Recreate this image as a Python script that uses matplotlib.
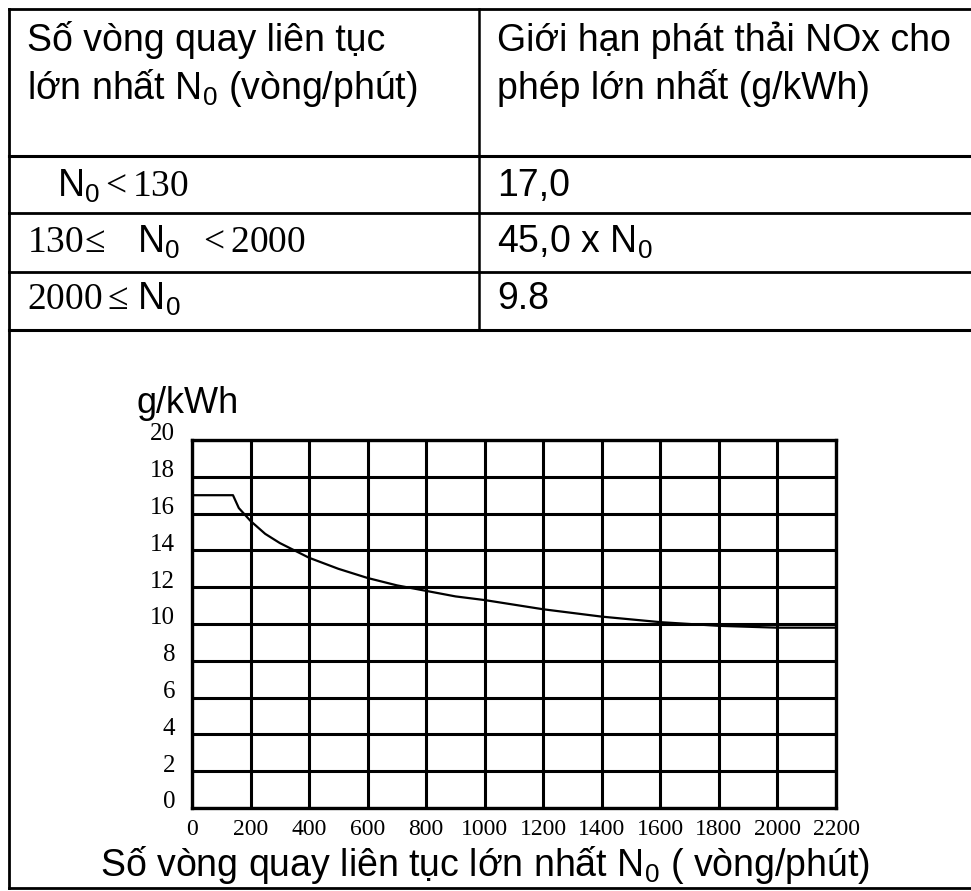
import matplotlib
matplotlib.use('Agg')
import matplotlib.pyplot as plt
from matplotlib.lines import Line2D
import matplotlib.transforms as mtransforms

W, H = 971, 891
plt.rcParams['font.family'] = ['Liberation Sans', 'DejaVu Sans']
plt.rcParams['mathtext.fontset'] = 'custom'
plt.rcParams['mathtext.rm'] = 'Liberation Serif'
plt.rcParams['mathtext.sf'] = 'Liberation Sans'
plt.rcParams['mathtext.it'] = 'Liberation Serif:italic'
plt.rcParams['mathtext.bf'] = 'Liberation Serif:bold'

# ---------------- data ----------------
header_left = ["Số vòng quay liên tục", r"lớn nhất $\mathsf{N_0}$ (vòng/phút)"]
header_right = ["Giới hạn phát thải NOx cho", "phép lớn nhất (g/kWh)"]
rows_left = [r"$\mathsf{N_0}\mathrm{<130}$",
             r"$\mathrm{130\!\leq}\ \ \ \mathsf{N_0}\ \ \mathrm{<2000}$",
             r"$\mathrm{2000\leq\,}\mathsf{N_0}$"]
rows_right = ["17,0", r"45,0 x $\mathsf{N_0}$", "9.8"]

speed = [0, 140, 160, 200, 250, 300, 400, 500, 600, 700, 800, 900, 1000,
         1200, 1400, 1600, 1800, 2000, 2200]
nox = [17.0, 17.0, 16.3, 15.6, 14.9, 14.4, 13.6, 13.0, 12.5, 12.1, 11.8,
       11.5, 11.3, 10.8, 10.4, 10.1, 9.9, 9.8, 9.8]
x_ticks = list(range(0, 2201, 200))
y_ticks = list(range(0, 21, 2))
y_label = "g/kWh"
x_label = r"Số vòng quay liên tục lớn nhất $\mathsf{N_0}$ ( vòng/phút)"

# ---------------- figure ----------------
fig = plt.figure(figsize=(W / 100, H / 100), dpi=100)


def fx(px):
    return px / W


def fy(py):
    return 1 - py / H


def hline(y, x0, x1, lw=2.0):
    fig.add_artist(Line2D([fx(x0), fx(x1)], [fy(y), fy(y)], color='black',
                          lw=lw, transform=fig.transFigure))


def vline(x, y0, y1, lw=2.0):
    fig.add_artist(Line2D([fx(x), fx(x)], [fy(y0), fy(y1)], color='black',
                          lw=lw, transform=fig.transFigure))


# table frame
hline(9, 9, 971, 2.0)
hline(156, 9, 971, 2.2)
hline(213, 9, 971, 2.0)
hline(272, 9, 971, 2.0)
hline(330, 9, 971, 2.2)
hline(888, 9, 971, 2.0)
vline(9, 9, 888, 2.0)
vline(479, 9, 330, 1.8)

hdr_fs = 27
fig.text(fx(27), fy(40), header_left[0], fontsize=hdr_fs, va='center', ha='left')
fig.text(fx(27), fy(88), header_left[1], fontsize=hdr_fs, va='center', ha='left')
fig.text(fx(497), fy(40), header_right[0], fontsize=hdr_fs, va='center', ha='left')
fig.text(fx(497), fy(88), header_right[1], fontsize=hdr_fs, va='center', ha='left')

row_y = [186, 242, 299]
row_x = [57, 27, 27]
for t, yy, xx in zip(rows_left, row_y, row_x):
    fig.text(fx(xx), fy(yy), t, fontsize=hdr_fs, va='center', ha='left')
for t, yy in zip(rows_right, row_y):
    fig.text(fx(497), fy(yy), t, fontsize=hdr_fs, va='center', ha='left')

# chart
ax = fig.add_axes([fx(192), fy(808), fx(836) - fx(192), fy(440) - fy(808)])
ax.plot(speed, nox, color='black', lw=1.6)
ax.set_xlim(0, 2200)
ax.set_ylim(0, 20)
ax.set_xticks(x_ticks)
ax.set_yticks(y_ticks)
ax.set_xticklabels([str(v) for v in x_ticks], family='Liberation Serif',
                   fontsize=17)
ax.set_yticklabels([str(v) for v in y_ticks], family='Liberation Serif',
                   fontsize=18)
ax.tick_params(axis='x', length=0, pad=8)
ax.tick_params(axis='y', length=0, pad=12)
ax.grid(True, color='black', lw=2.2)
for s in ax.spines.values():
    s.set_linewidth(2.4)
off = mtransforms.ScaledTranslation(0, 8 / 100, fig.dpi_scale_trans)
for lab in ax.get_yticklabels():
    lab.set_transform(lab.get_transform() + off)

fig.text(fx(137), fy(413), y_label, fontsize=26, va='baseline', ha='left')
fig.text(fx(100), fy(876), x_label, fontsize=hdr_fs, va='baseline', ha='left')

fig.savefig('out.png', dpi=100)
